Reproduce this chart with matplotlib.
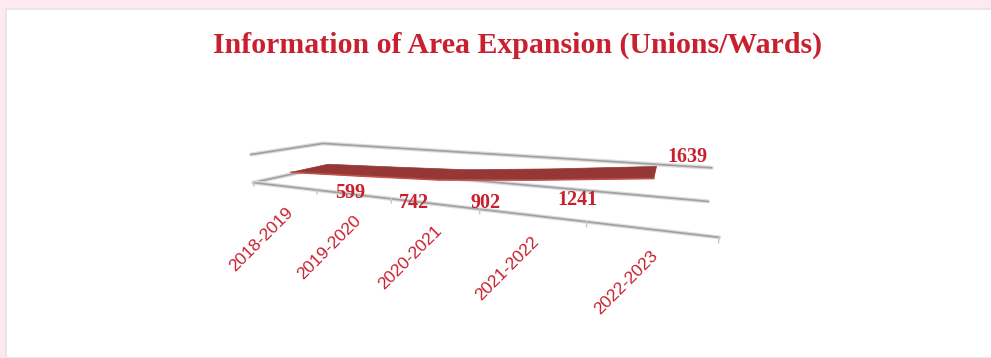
import matplotlib
matplotlib.use("Agg")
import matplotlib.pyplot as plt
from matplotlib.patches import Rectangle
from mpl_toolkits.mplot3d import proj3d

categories = ["2018-2019", "2019-2020", "2020-2021", "2021-2022", "2022-2023"]
values = [599, 742, 902, 1241, 1639]
title = "Information of Area Expansion (Unions/Wards)"

RED = "#c8202e"
AREA = "#953735"
GRID = "#a0a0a0"
ZTOP = 1425          # top of the (squashed) value walls
W, H = 991, 358

# view fitted to the reference perspective
ELEV, AZIM, FOCAL = 10.79, -65.17, 0.1869
BOX = (1, 0.253, 0.0696)
SCALE, TX, TY = 2427.87, 459.96, 182.06

# pixel nudges of the value labels (Excel puts them oddly)
LABEL_SHIFT = [(66, -7), (62, -9), (52, 1), (47, 15), (38, 72)]

fig = plt.figure(figsize=(W / 100, H / 100), dpi=100)
fig.patch.set_facecolor("#fde9ef")
fig.add_artist(Rectangle((6 / W, 0), 1, 1 - 9 / H, transform=fig.transFigure,
                         facecolor="white", edgecolor="#e4e4e4", lw=1.2, zorder=-10))
fig.text(0.522, 1 - 45 / H, title, ha="center", va="center", color=RED,
         fontsize=21.5, fontweight="bold", family="Liberation Serif")

ax = fig.add_axes([0.3, 0.1, 0.8 * H / W, 0.8], projection="3d", computed_zorder=False)
ax.set_axis_off()
ax.patch.set_alpha(0)
n = len(categories)
x0, x1 = -0.5, n - 0.5
ax.set_xlim(x0, x1)
ax.set_ylim(0, 1)
ax.set_zlim(0, ZTOP)
ax.set_proj_type("persp", focal_length=FOCAL)
ax.view_init(elev=ELEV, azim=AZIM)
ax.set_box_aspect(BOX, zoom=1)


def line3(xs, ys, zs):
    ax.plot(xs, ys, zs, color="#dcdcdc", lw=3.0, solid_capstyle="round", clip_on=False)
    ax.plot(xs, ys, zs, color=GRID, lw=1.2, solid_capstyle="round", clip_on=False)


# wall tops, floor back edge, floor front edge (category axis)
line3([x0, x0, x1], [0, 1, 1], [ZTOP, ZTOP, ZTOP])
line3([x0, x0, x1], [0, 1, 1], [0, 0, 0])
line3([x0, x1], [0, 0], [0, 0])
for b in range(n + 1):
    ax.plot([x0 + b, x0 + b], [0, 0], [0, -0.13 * ZTOP], color="#c8c8c8", lw=1,
            clip_on=False)

# area series: its top surface seen from above
xs = list(range(n))
front, back = 0.1, 0.62
poly = ax.fill_between(xs, [front] * n, values, xs, [back] * n, values,
                       color=AREA, edgecolor=AREA, lw=0.5)
poly.set_clip_on(False)
poly.set_zorder(3)
ax.plot(xs, [front] * n, values, color="#c0504d", lw=1.2, clip_on=False, zorder=4)

M = ax.get_proj()


def to2d(x, y, z):
    px, py, _ = proj3d.proj_transform(x, y, z, M)
    return px, py


for i, c in enumerate(categories):
    ax.annotate(c, to2d(i, 0, 0), xytext=(1, -19), textcoords="offset pixels",
                rotation=45, ha="right", va="top", rotation_mode="anchor",
                color=RED, fontsize=12.5, family="Liberation Sans", annotation_clip=False)

for i, v in enumerate(values):
    ax.annotate(str(v), to2d(i, 0, 0), xytext=LABEL_SHIFT[i], textcoords="offset pixels",
                ha="center", va="center", color=RED, fontsize=14.5, fontweight="bold",
                family="Liberation Serif", annotation_clip=False)

# place the 3D axes so the projected scene lands where the reference has it
fig.canvas.draw()
(l, b), (r, t) = ax.transData.inverted().transform(ax.bbox.get_points())
ax.set_position([(TX + SCALE * l) / W, (TY + SCALE * b) / H,
                 SCALE * (r - l) / W, SCALE * (t - b) / H])

fig.savefig("out.png", dpi=100)
